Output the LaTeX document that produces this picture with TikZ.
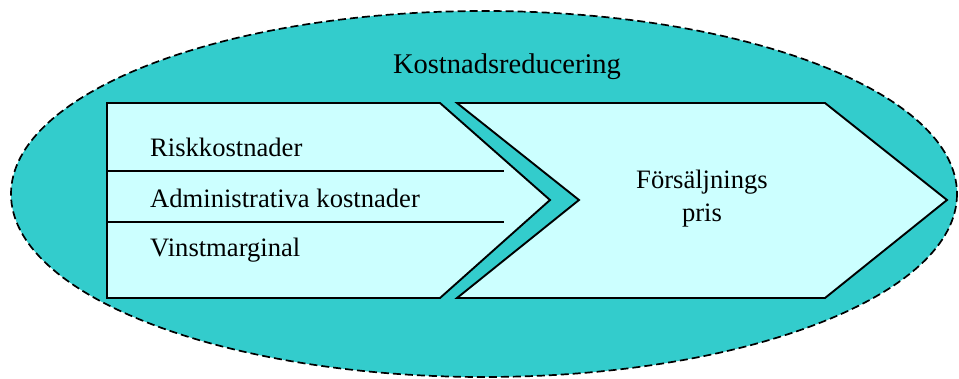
\documentclass[tikz,border=0pt]{standalone}
\usepackage{fontspec}
\setmainfont{Liberation Serif}
\definecolor{teal1}{HTML}{33CCCC}
\definecolor{pale}{HTML}{CCFFFF}
\begin{document}
\begin{tikzpicture}[x=1pt,y=-1pt,
  chev/.style={draw=black,fill=pale,line width=1.9pt,line join=miter},
  lbl/.style={font=\fontsize{26.6}{30}\selectfont,inner sep=0pt,anchor=base west},
  ctr/.style={font=\fontsize{26.6}{32}\selectfont,inner sep=0pt,align=center,text=black}]
\useasboundingbox (0,0) rectangle (959,378);
\draw[fill=teal1,draw=black,line width=1.7pt,dash pattern=on 8pt off 4pt] (484,194) ellipse [x radius=473, y radius=183];
\node[inner sep=0pt,anchor=base,font=\fontsize{28.5}{32}\selectfont] (title) at (507,73) {Kostnadsreducering};
\draw[chev] (107,103) -- (440,103) -- (550,200) -- (440,298) -- (107,298) -- cycle;
\draw[chev] (457,103) -- (825,103) -- (947,200) -- (825,298) -- (457,298) -- (579,200) -- cycle;
\coordinate (s1a) at (107,171); \coordinate (s1b) at (504,171);
\coordinate (s2a) at (107,222); \coordinate (s2b) at (504,222);
\draw[line width=1.7pt] (s1a) -- (s1b);
\draw[line width=1.7pt] (s2a) -- (s2b);
\node[lbl] (r) at (150,156) {Riskkostnader};
\node[lbl] (a) at (150,207) {Administrativa kostnader};
\node[lbl] (v) at (150,256) {Vinstmarginal};
\node[lbl,anchor=base] (f) at (702,188) {Försäljnings};
\node[lbl,anchor=base] (p) at (702,221) {pris};
\end{tikzpicture}
\end{document}
